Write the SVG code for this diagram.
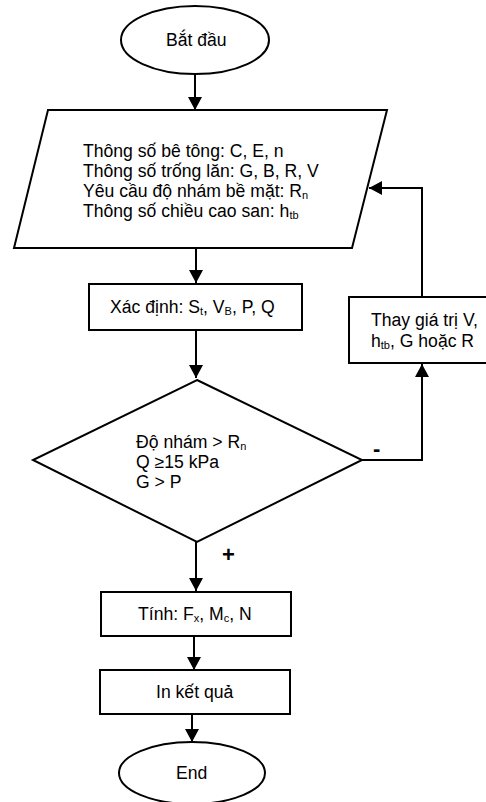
<svg xmlns="http://www.w3.org/2000/svg" width="486" height="802" viewBox="0 0 486 802">
<defs>
<style>
.s{fill:#fff;stroke:#000;stroke-width:2}
.t{font-family:"Liberation Sans",Arial,sans-serif;font-size:17.6px;fill:#000}
.sub{font-size:11px}
.c{fill:none;stroke:#000;stroke-width:2}
.lb{font-family:"Liberation Sans",Arial,sans-serif;font-size:22px;font-weight:bold;fill:#000}
</style>
<marker id="ah" markerUnits="userSpaceOnUse" viewBox="0 0 13 14" refX="13" refY="7" markerWidth="13" markerHeight="14" orient="auto">
<path d="M0,0 L13,7 L0,14 z" fill="#000"/>
</marker>
</defs>
<rect width="486" height="802" fill="#fff"/>
<g id="connectors">
<line class="c" x1="195" y1="74" x2="195" y2="110" marker-end="url(#ah)"/>
<line class="c" x1="196" y1="248" x2="196" y2="283" marker-end="url(#ah)"/>
<line class="c" x1="196" y1="330" x2="196" y2="378" marker-end="url(#ah)"/>
<line class="c" x1="196" y1="542" x2="196" y2="591" marker-end="url(#ah)"/>
<line class="c" x1="194" y1="636" x2="194" y2="670" marker-end="url(#ah)"/>
<line class="c" x1="192" y1="714" x2="192" y2="742" marker-end="url(#ah)"/>
<polyline class="c" points="362,460 422,460 422,364" marker-end="url(#ah)"/>
<polyline class="c" points="422,297 422,188 369,188" marker-end="url(#ah)"/>
<text class="lb" x="373" y="456">-</text>
<text class="lb" x="222" y="562">+</text>
</g>
<g id="start">
<ellipse class="s" cx="195" cy="40" rx="74" ry="34"/>
<text class="t" x="166" y="46">Bắt đầu</text>
</g>
<g id="input">
<polygon class="s" points="48,110 387,110 352,248 14,248"/>
<text class="t" x="83" y="157">Thông số bê tông: C, E, n</text>
<text class="t" x="83" y="177">Thông số trống lăn: G, B, R, V</text>
<text class="t" x="83" y="197">Yêu cầu độ nhám bề mặt: R<tspan class="sub" dy="2">n</tspan></text>
<text class="t" x="83" y="217">Thông số chiều cao san: h<tspan class="sub" dy="2">tb</tspan></text>
</g>
<g id="determine">
<rect class="s" x="89" y="284" width="213" height="46"/>
<text class="t" x="110" y="313">Xác định: S<tspan class="sub" dy="2">t</tspan><tspan dy="-2">, V</tspan><tspan class="sub" dy="2">B</tspan><tspan dy="-2">, P, Q</tspan></text>
</g>
<g id="change">
<rect class="s" x="349" y="297" width="140" height="66"/>
<text class="t" x="371" y="326">Thay giá trị V,</text>
<text class="t" x="371" y="347">h<tspan class="sub" dy="2">tb</tspan><tspan dy="-2">, G hoặc R</tspan></text>
</g>
<g id="decision">
<polygon class="s" points="197,380 362,460 197,542 33,460"/>
<text class="t" x="136" y="448">Độ nhám &gt; R<tspan class="sub" dy="2">n</tspan></text>
<text class="t" x="136" y="468">Q ≥15 kPa</text>
<text class="t" x="136" y="488">G &gt; P</text>
</g>
<g id="compute">
<rect class="s" x="101" y="592" width="190" height="44"/>
<text class="t" x="138" y="620">Tính: F<tspan class="sub" dy="2">x</tspan><tspan dy="-2">, M</tspan><tspan class="sub" dy="2">c</tspan><tspan dy="-2">, N</tspan></text>
</g>
<g id="print">
<rect class="s" x="100" y="670" width="190" height="44"/>
<text class="t" x="156" y="698">In kết quả</text>
</g>
<g id="end">
<ellipse class="s" cx="192" cy="773" rx="73" ry="31"/>
<text class="t" x="176" y="779">End</text>
</g>
</svg>
